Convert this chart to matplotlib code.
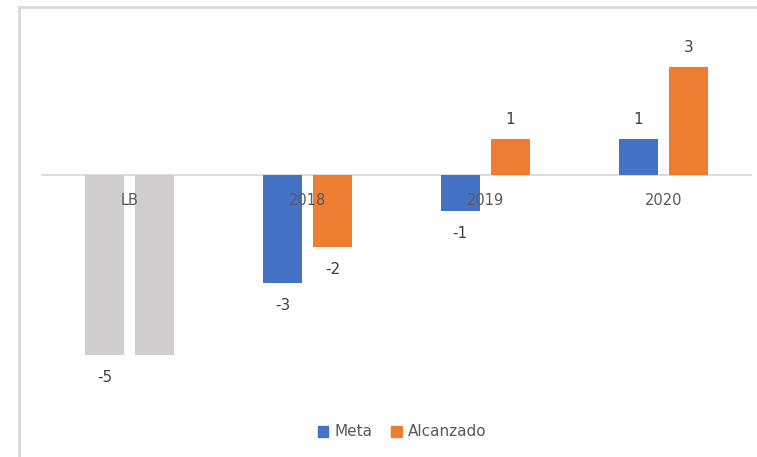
import matplotlib.pyplot as plt
from matplotlib.lines import Line2D
from matplotlib.patches import Patch
import numpy as np

categories = ["LB", "2018", "2019", "2020"]
meta = [-5, -3, -1, 1]
alcanzado = [-5, -2, 1, 3]
# the LB bar of "Alcanzado" carries no data label in the original
show_alc_label = [False, True, True, True]

blue = "#4472C4"
orange = "#ED7D31"
gray = "#D0CECE"
text_gray = "#595959"

W, H = 757, 457
fig = plt.figure(figsize=(W / 100, H / 100), dpi=100)

# chart frame (only left and top edges are visible in the crop)
fig.add_artist(Line2D([19 / W, 19 / W], [0, 1 - 7 / H], transform=fig.transFigure,
                      color="#D9D9D9", lw=2))
fig.add_artist(Line2D([19 / W, 1], [1 - 7 / H, 1 - 7 / H], transform=fig.transFigure,
                      color="#D9D9D9", lw=2))

ax = fig.add_axes([41 / W, (H - 391) / H, 711 / W, 360 / H])
x = np.arange(len(categories))
width = 0.219
off = 0.141

meta_colors = [gray] + [blue] * 3
alc_colors = [gray] + [orange] * 3
ax.bar(x - off, meta, width, color=meta_colors, zorder=2)
ax.bar(x + off, alcanzado, width, color=alc_colors, zorder=2)

ax.set_xlim(-0.5, 3.5)
ax.set_ylim(-6, 4)
ax.axhline(0, color="#D9D9D9", lw=1.3, zorder=1)


def label(xi, v):
    dy = 0.55 if v > 0 else -0.62
    ax.text(xi, v + dy, str(v), ha="center", va="center",
            fontsize=11, color="#404040", zorder=3)


for xi, v in zip(x - off, meta):
    label(xi, v)
for xi, v, show in zip(x + off, alcanzado, show_alc_label):
    if show:
        label(xi, v)

for xi, c in zip(x, categories):
    ax.text(xi, -0.7, c, ha="center", va="center", fontsize=10.5,
            color=text_gray, zorder=3)

for s in ax.spines.values():
    s.set_visible(False)
ax.set_xticks([])
ax.set_yticks([])

handles = [Patch(color=blue, label="Meta"), Patch(color=orange, label="Alcanzado")]
fig.legend(handles=handles, loc="center", bbox_to_anchor=(402 / W, 1 - 432 / H),
           ncol=2, frameon=False, fontsize=11, handlelength=0.7, handleheight=0.7,
           handletextpad=0.4, columnspacing=1.2, labelcolor=text_gray)

fig.savefig("out.png", dpi=100)
